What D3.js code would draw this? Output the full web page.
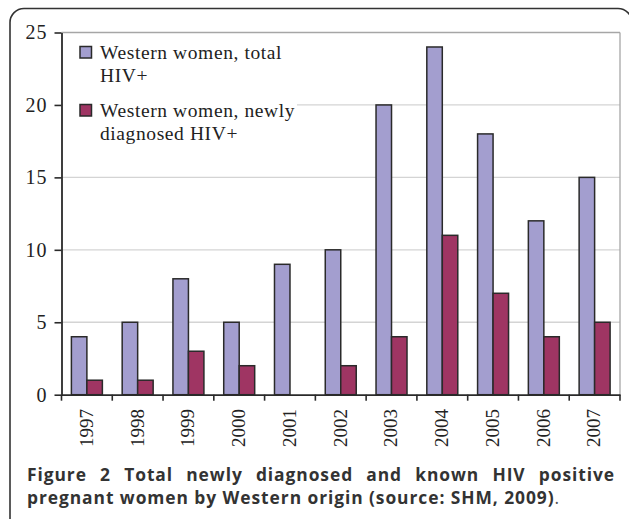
<!DOCTYPE html>
<html>
<head>
<meta charset="utf-8">
<script src="https://cdn.jsdelivr.net/npm/d3@7"></script>
<style>
  body { margin: 0; background: #fff; }
  svg { display: block; }
</style>
</head>
<body>
<script>
// values
var years = ["1997", "1998", "1999", "2000", "2001", "2002", "2003", "2004", "2005", "2006", "2007"];
var totalHiv = [4, 5, 8, 5, 9, 10, 20, 24, 18, 12, 15];
var newHiv = [1, 1, 3, 2, 0, 2, 4, 11, 7, 4, 5];
var seriesNames = ["Western women, total HIV+", "Western women, newly diagnosed HIV+"];
var yTicks = [0, 5, 10, 15, 20, 25];

var W = 629, H = 519;
var plot = { left: 61.5, right: 620, top: 32.5, bottom: 394.7 };
var colors = ["#a39ecf", "#9f3563"];

var svg = d3.select("body").append("svg")
    .attr("width", W)
    .attr("height", H);

// figure frame (rounded box, runs off the bottom/right)
svg.append("rect")
    .attr("x", 10).attr("y", 8.5)
    .attr("width", 622).attr("height", 600)
    .attr("rx", 14)
    .attr("fill", "none")
    .attr("stroke", "#333")
    .attr("stroke-width", 1.6);

var x = d3.scaleBand().domain(years).range([plot.left, plot.right]);
var bw = x.bandwidth();
var x1 = d3.scaleBand().domain([0, 1]).range([bw * 0.195, bw * 0.805]);
var y = d3.scaleLinear().domain([0, 25]).range([plot.bottom, plot.top]);

// grid
svg.append("g").selectAll("line")
    .data(yTicks.filter(function (d) { return d > 0; }))
    .join("line")
    .attr("x1", plot.left).attr("x2", plot.right)
    .attr("y1", function (d) { return y(d); })
    .attr("y2", function (d) { return y(d); })
    .attr("stroke", function (d) { return d === 25 ? "#a6a6a6" : "#d4d4d4"; })
    .attr("stroke-width", 1.3);

svg.append("line")
    .attr("x1", plot.right).attr("x2", plot.right)
    .attr("y1", plot.top).attr("y2", plot.bottom)
    .attr("stroke", "#a6a6a6").attr("stroke-width", 1.3);

// legend background covers grid
svg.append("rect")
    .attr("x", 63).attr("y", 38)
    .attr("width", 234).attr("height", 110)
    .attr("fill", "#fff");

// bars
var rows = years.map(function (yr, i) { return { year: yr, vals: [totalHiv[i], newHiv[i]] }; });
var groups = svg.append("g").selectAll("g")
    .data(rows)
    .join("g")
    .attr("transform", function (d) { return "translate(" + x(d.year) + ",0)"; });

groups.selectAll("rect")
    .data(function (d) { return d.vals.map(function (v, k) { return { k: k, v: v }; }).filter(function (e) { return e.v > 0; }); })
    .join("rect")
    .attr("x", function (d) { return x1(d.k); })
    .attr("width", x1.bandwidth())
    .attr("y", function (d) { return y(d.v); })
    .attr("height", function (d) { return y(0) - y(d.v); })
    .attr("fill", function (d) { return colors[d.k]; })
    .attr("stroke", "#2a2a2a")
    .attr("stroke-width", 1.5);

// axes
var serif = "'Liberation Serif', 'Times New Roman', serif";

var yAxis = svg.append("g")
    .attr("transform", "translate(" + plot.left + ",0)")
    .call(d3.axisLeft(y).tickValues(yTicks).tickSize(7).tickSizeOuter(0).tickPadding(7));

var xAxis = svg.append("g")
    .attr("transform", "translate(0," + plot.bottom + ")")
    .call(d3.axisBottom(x).tickSize(0).tickSizeOuter(0).tickFormat(""));

// category boundary ticks
xAxis.append("g").selectAll("line")
    .data(years.concat(["end"]))
    .join("line")
    .attr("x1", function (d, i) { return i < years.length ? x(d) : plot.right; })
    .attr("x2", function (d, i) { return i < years.length ? x(d) : plot.right; })
    .attr("y1", 0).attr("y2", 6)
    .attr("stroke", "#2a2a2a").attr("stroke-width", 1.6);

[yAxis, xAxis].forEach(function (a) {
    a.select(".domain").attr("stroke", "#2a2a2a").attr("stroke-width", 1.8);
    a.selectAll(".tick line").attr("stroke", "#2a2a2a").attr("stroke-width", 1.6);
});
yAxis.selectAll(".tick text")
    .attr("font-family", serif).attr("font-size", 20).attr("fill", "#222")
    .attr("letter-spacing", 1);

// rotated year labels
svg.append("g").selectAll("text")
    .data(years)
    .join("text")
    .attr("transform", function (d) { return "translate(" + (x(d) + bw / 2 - 1) + ",409) rotate(-90)"; })
    .attr("text-anchor", "end")
    .attr("dy", "0.36em")
    .attr("font-family", serif).attr("font-size", 19).attr("fill", "#222")
    .text(function (d) { return d; });

// legend
var legendLines = [["Western women, total", "HIV+"], ["Western women, newly", "diagnosed HIV+"]];
var leg = svg.append("g").selectAll("g")
    .data(seriesNames)
    .join("g")
    .attr("transform", function (d, i) { return "translate(80," + (46.5 + i * 58) + ")"; });
leg.append("rect")
    .attr("width", 11.5).attr("height", 11.5)
    .attr("fill", function (d, i) { return colors[i]; })
    .attr("stroke", "#2a2a2a").attr("stroke-width", 1.5);
leg.each(function (d, i) {
    var t = d3.select(this).append("text")
        .attr("font-family", serif).attr("font-size", 19.5).attr("fill", "#222")
        .attr("letter-spacing", 0.6);
    legendLines[i].forEach(function (ln, j) {
        t.append("tspan").attr("x", 20).attr("y", 12.8 + j * 23).text(ln);
    });
});

// caption
var sans = "'Open Sans', 'Noto Sans', sans-serif";
var capLeft = 27, capRight = 615, capFs = 17.4;
var cap1 = svg.append("text")
    .attr("x", capLeft).attr("y", 480.5)
    .attr("font-family", sans).attr("font-size", capFs).attr("font-weight", 700).attr("fill", "#333")
    .text("Figure 2 Total newly diagnosed and known HIV positive");
var cap2 = svg.append("text")
    .attr("x", capLeft).attr("y", 504.2)
    .attr("font-family", sans).attr("font-size", capFs).attr("font-weight", 700).attr("fill", "#333");
cap2.append("tspan").text("pregnant women by Western origin (source: SHM, 2009)");
cap2.append("tspan").attr("font-weight", 400).attr("fill", "#555").text(".");

// spread letters so line 2 ends near x=560, then justify line 1 with word spacing
var w2 = cap2.node().getComputedTextLength();
var n2 = "pregnant women by Western origin (source: SHM, 2009).".length;
var ls = Math.max(0, (533 - w2) / n2);
cap1.attr("letter-spacing", ls);
cap2.attr("letter-spacing", ls);
var w1 = cap1.node().getComputedTextLength();
var gaps = cap1.text().split(" ").length - 1;
cap1.attr("word-spacing", Math.max(0, (capRight - capLeft - w1) / gaps));
</script>
</body>
</html>
